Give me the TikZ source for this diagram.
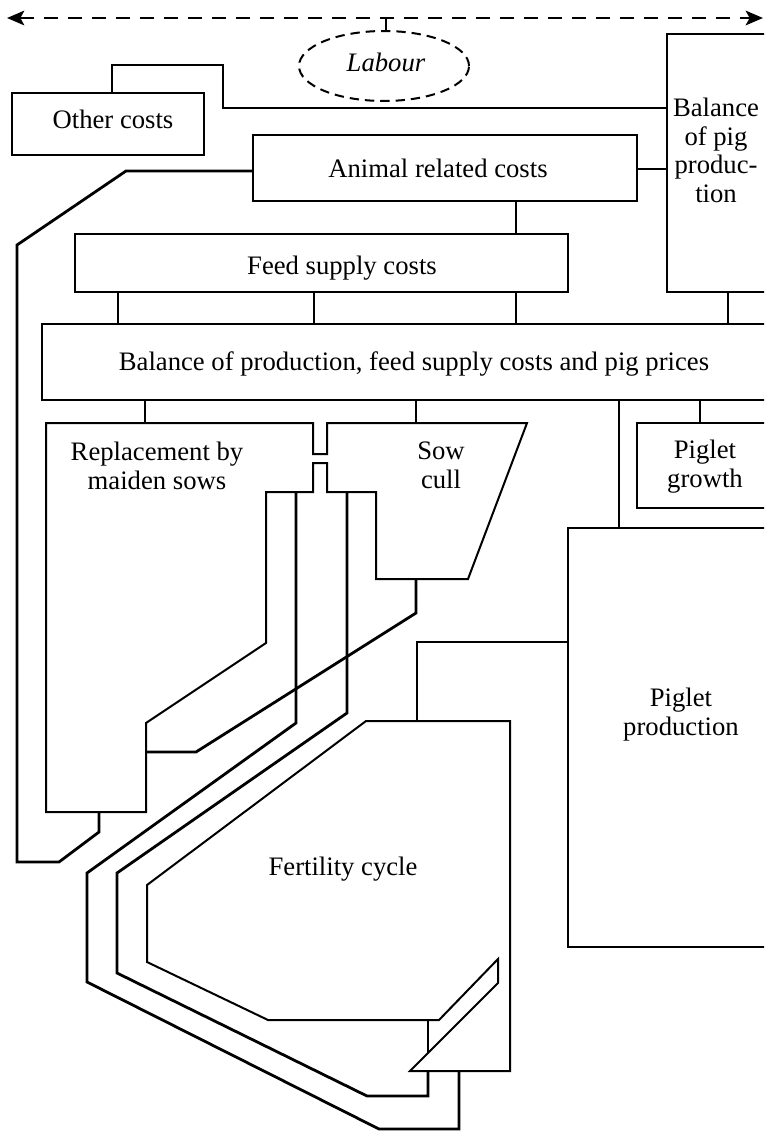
\documentclass[tikz,border=0pt]{standalone}
\usepackage{fontspec}
\setmainfont{Liberation Serif}
\usetikzlibrary{arrows.meta,shapes.geometric,fit}
\newcommand\lbfont{\fontsize{20pt}{21.4pt}\selectfont}

\begin{document}
\begin{tikzpicture}[x=0.75pt,y=-0.75pt,
  box/.style={draw, line width=1.5pt, inner sep=0pt},
  link/.style={line width=2.1pt, line join=miter},
  outline/.style={line width=1.5pt, line join=miter},
  lbl/.style={font=\lbfont, align=center, inner sep=0pt}]
\useasboundingbox (0,0) rectangle (764,1131);
\clip (0,0) rectangle (764,1131);

% labour: dashed double arrow with the dashed ellipse below it
\coordinate (wl) at (7,18);
\coordinate (wr) at (763,18);
\draw[line width=1.6pt, dash pattern=on 11pt off 7pt,
  {Stealth[length=13pt,width=11pt,inset=3pt]}-{Stealth[length=13pt,width=11pt,inset=3pt]}] (wl) -- (wr);
\node[draw, ellipse, line width=1.5pt, dash pattern=on 7pt off 4.5pt,
  minimum width=127.5pt, minimum height=52.5pt, inner sep=0pt] (labour) at (384,66) {};
\node[lbl, anchor=base, font=\lbfont\itshape] (labourtxt) at (386,72) {Labour};
\draw[line width=1.5pt] (labour.north -| 386,0) -- (386,0 |- wl);

% rectangular boxes
\node[box, fit={(12,93) (204,155)}] (other) {};
\node[box, fit={(253,135) (637,201)}] (animal) {};
\node[box, fit={(667,34) (780,292)}] (balpig) {};
\node[box, fit={(75,234) (568,292)}] (feed) {};
\node[box, fit={(42,324) (780,400)}] (balance) {};
\node[box, fit={(637,423) (780,508)}] (growth) {};
\node[box, fit={(568,528) (780,947)}] (pigprod) {};

% texts
\node[lbl, anchor=base] (othertxt) at (113,128) {Other costs};
\node[lbl, anchor=base] (animaltxt) at (438,177) {Animal related costs};
\node[lbl, anchor=north] (balpigtxt) at (716,98) {Balance\\of pig\\produc-\\tion};
\node[lbl, anchor=base] (feedtxt) at (342,274) {Feed supply costs};
\node[lbl, anchor=base] (baltxt) at (414,370) {Balance of production, feed supply costs and pig prices};
\node[lbl, anchor=north] (repltxt) at (157,442) {Replacement by\\maiden sows};
\node[lbl, anchor=north] (culltxt) at (441,442) {Sow\\cull};
\node[lbl, anchor=north] (growthtxt) at (705,440) {Piglet\\growth};
\node[lbl, anchor=north] (pigprodtxt) at (681,688) {Piglet\\production};
\node[lbl, anchor=base] (fertxt) at (343,875) {Fertility cycle};

% replacement / sow cull outline
\draw[outline] (46,423) -- (313,423) -- (313,454) -- (327,454) -- (327,423)
  -- (527,423) -- (468,579) -- (376,579) -- (376,492) -- (327,492) -- (327,463)
  -- (313,463) -- (313,492) -- (266,492) -- (266,643) -- (146,723) -- (146,812)
  -- (46,812) -- cycle;

% fertility cycle outline
\draw[outline] (366,721) -- (147,885) -- (147,962) -- (268,1020) -- (439,1020)
  -- (498,959) -- (498,983) -- (410,1071) -- (510,1071) -- (510,721) -- cycle;

% connection points on the outlines
\coordinate (replin) at (145,423);
\coordinate (cullin) at (416,423);
\coordinate (cullout) at (416,579);
\coordinate (replside) at (146,752);
\coordinate (replout) at (99,812);
\coordinate (pipel) at (296,492);
\coordinate (piper) at (347,492);
\coordinate (fertin) at (417,721);
\coordinate (fertout1) at (459,1071);
\coordinate (fertout2) at (428,1071);
\coordinate (valvetop) at (428,1020);
\coordinate (valvebot) at (428,1053);

% connectors
\draw[link] (other.north -| 112,0) -- (112,65) -- (223,65) -- (223,108) -- (balpig.west |- 0,108);
\draw[link] (animal.east |- 0,169) -- (balpig.west |- 0,169);
\draw[link] (animal.west |- 0,171) -- (126,171) -- (17,245) -- (17,862) -- (59,862) -- (99,832) -- (replout);
\draw[link] (animal.south -| 516,0) -- (feed.north -| 516,0);
\foreach \xx in {118,314,516}
  \draw[link] (feed.south -| \xx,0) -- (balance.north -| \xx,0);
\draw[link] (balpig.south -| 728,0) -- (balance.north -| 728,0);
\draw[link] (balance.south -| replin) -- (replin);
\draw[link] (balance.south -| cullin) -- (cullin);
\draw[link] (balance.south -| 619,0) -- (pigprod.north -| 619,0);
\draw[link] (balance.south -| 700,0) -- (growth.north -| 700,0);
\draw[link] (cullout) -- (416,613) -- (196,752) -- (replside);
\draw[link] (pigprod.west |- 0,642) -- (417,642) -- (fertin);
\draw[link] (pipel) -- (296,723) -- (87,873) -- (87,982) -- (379,1129) -- (459,1129) -- (fertout1);
\draw[link] (piper) -- (347,713) -- (117,873) -- (117,973) -- (367,1096) -- (428,1096) -- (fertout2);
\draw[outline] (valvetop) -- (valvebot);
\end{tikzpicture}
\end{document}
